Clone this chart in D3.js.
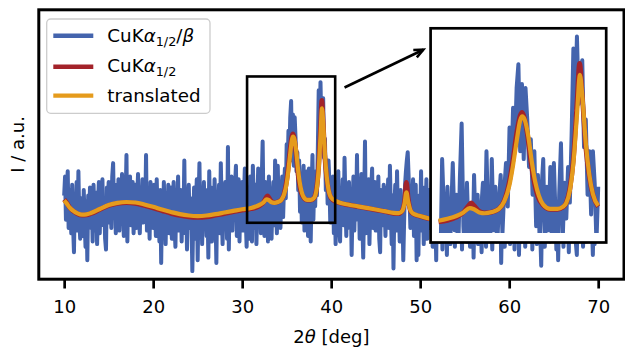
<!DOCTYPE html>
<html>
<head>
<meta charset="utf-8">
<script src="https://cdn.jsdelivr.net/npm/d3@7"></script>
<style>
  body { margin: 0; background: #fff; }
  svg { display: block; }
  text { font-family: "DejaVu Sans", sans-serif; fill: #000; }
</style>
</head>
<body>
<svg id="chart" width="625" height="347"></svg>
<script>
// ---- measured pattern: 2θ grid from 10° to 70° in 0.1° steps ----
const thetaStart = 10;
const thetaStep = 0.1;
const patternFull = [
  31,38,22,34,40,19,33,27,17,35,  // 10
  20,10,31,24,36,18,40,22,15,30,  // 11
  27,16,33,21,12,29,7,31,19,34,   // 12
  22,30,14,35,25,18,32,13,28,36,  // 13
  17,33,24,37,20,29,15,11,34,26,  // 14
  36,21,30,19,38,43,24,33,17,35,  // 15
  25,37,18,32,22,39,27,16,34,29,  // 16
  46,14,33,24,38,20,31,36,17,28,  // 17
  35,19,30,39,23,17,34,26,37,21,  // 18
  31,24,46,18,33,27,15,36,22,30,  // 19
  19,35,28,16,37,23,31,14,33,6,   // 20
  30,18,36,24,13,32,21,35,17,28,  // 21
  34,15,27,36,20,12,31,25,38,18,  // 22
  26,33,14,29,21,44,17,32,11,28,  // 23
  35,19,30,24,3,22,34,15,27,37,   // 24
  7,29,43,18,31,13,26,36,20,33,   // 25
  16,28,8,40,22,34,14,30,19,37,   // 26
  25,6,32,21,35,17,43,27,13,31,   // 27
  20,36,28,15,49,11,33,23,38,18,  // 28
  30,22,35,42,16,29,37,14,32,24,  // 29
  36,18,31,41,23,12,34,27,15,38,  // 30
  22,14,42,29,19,35,13,27,41,24,  // 31
  33,17,37,51,25,16,36,21,30,14,  // 32
  38,22,33,15,29,36,20,44,26,17,  // 33
  42,24,35,19,31,38,23,34,41,30,  // 34
  50,39,55,45,60,66,44,61,42,60,  // 35
  52,40,47,33,44,25,38,21,34,42,  // 36
  18,35,24,40,16,41,27,14,33,46,  // 37
  22,36,27,40,31,48,70,55,73,56,  // 38
  64,67,45,52,33,44,28,44,36,21,  // 39
  35,24,38,17,31,13,36,22,40,19,  // 40
  14,33,25,37,20,45,29,16,35,23,  // 41
  36,19,31,9,27,38,18,33,24,46,   // 42
  22,35,15,30,39,21,8,28,51,17,   // 43
  32,24,37,13,29,34,41,19,27,36,  // 44
  18,31,23,38,15,10,33,26,20,35,  // 45
  28,16,34,22,37,19,42,25,13,31,  // 46
  4,27,35,18,40,23,30,14,33,21,   // 47
  29,7,22,35,40,44,47,38,30,19,   // 48
  33,24,37,16,29,35,7,26,9,31,    // 49
  22,40,18,30,13,34,24,37,15,28,  // 50
  33,19,27,36,12,30,21,25,7,34,   // 51
  25,14,31,19,28,11,34,22,16,30,  // 52
  9,27,20,35,13,24,31,17,29,12,   // 53
  33,21,15,28,36,18,25,11,32,23,  // 54
  19,30,14,26,35,22,12,29,17,33,  // 55
  8,24,31,16,27,13,34,21,28,10,   // 56
  26,35,18,23,12,30,20,33,15,27,  // 57
  22,11,29,36,17,25,14,32,19,28,  // 58
  31,6,24,18,33,12,27,21,35,16,   // 59
  29,13,23,34,19,26,11,31,22,17,  // 60
  33,9,25,30,14,28,20,36,12,24,   // 61
  18,31,22,15,29,35,11,26,19,32,  // 62
  24,13,30,20,27,16,5,28,33,21,   // 63
  12,29,23,35,17,26,14,31,20,27,  // 64
  30,16,25,11,33,7,22,28,18,34,   // 65
  21,12,27,32,16,29,23,10,35,19,  // 66
  26,33,15,22,30,13,9,28,20,31,   // 67
  17,25,34,12,29,21,27,14,32,23,  // 68
  28,16,31,20,9,26,13,30,22,18,   // 69
  24                              // 70
];

// ---- Kα1/2 profile, [2θ, I] ----
const alphaProfile = [
  [10,29.5],[10.3,28.2],[10.6,26.6],[11,25.3],[11.5,24.2],[12,23.7],[12.5,23.8],[13,24.3],
  [14,25.8],[15,27.3],[16,28.1],[17,28.4],[18,28.1],[19,27.3],[20,26.4],[21,25.4],[22,24.4],
  [23,23.6],[24,23.1],[25,22.9],[26,23.1],[27,23.7],[28,24.3],[29,25.0],[30,25.6],[31,26.1],
  [31.5,26.5],[32,27.3],[32.4,28.5],[32.7,30.3],[32.85,30.9],[33,30.2],[33.3,28.8],[33.6,28.4],
  [34,28.6],[34.4,29.4],[34.7,31.5],[35,36.5],[35.2,42],[35.4,48.5],[35.6,53],[35.7,53.8],
  [35.8,53],[36,48.5],[36.2,41.5],[36.4,36],[36.6,32.5],[36.9,30.3],[37.3,29.3],[37.7,29.3],
  [38,29.8],[38.2,31],[38.4,34.5],[38.6,42],[38.8,56],[38.95,66.2],[39.1,58],[39.3,45],
  [39.5,37.5],[39.7,33],[40,30],[40.5,28.8],[41,28.2],[42,27.5],[43,26.9],[44,26.3],[45,25.7],
  [46,25.1],[47,24.4],[47.6,24.3],[48,25.5],[48.25,29],[48.45,35.9],[48.65,30],[48.9,25.5],
  [49.2,24.2],[50,23.3],[51,22.4],[52,21.8],[55,21.5],[60,21.8],[65,22],[70,22.2]
];

// ---- translated profile, [2θ, I] ----
const translatedProfile = [
  [10,29.2],[10.3,28.0],[10.6,26.6],[11,25.4],[11.5,24.4],[12,23.9],[12.5,24.0],[13,24.5],
  [14,26.0],[15,27.5],[16,28.3],[17,28.6],[18,28.4],[19,27.7],[20,26.8],[21,25.8],[22,24.9],
  [23,24.1],[24,23.6],[25,23.4],[26,23.6],[27,24.1],[28,24.7],[29,25.3],[30,25.9],[31,26.4],
  [31.5,26.9],[32,27.6],[32.4,28.5],[32.75,29.6],[33,29.3],[33.3,28.5],[33.6,28.3],[34,28.6],
  [34.4,29.4],[34.7,31.3],[35,35.5],[35.2,40.5],[35.4,46.5],[35.6,51.8],[35.72,52.8],
  [35.85,52],[36.05,48],[36.25,41.5],[36.45,36.2],[36.65,32.8],[36.9,30.5],[37.3,29.4],
  [37.7,29.4],[38,29.9],[38.2,30.9],[38.4,34],[38.6,41],[38.8,53],[38.97,63.3],[39.12,57],
  [39.3,46],[39.5,38],[39.7,33.2],[40,30.2],[40.5,29.0],[41,28.3],[42,27.6],[43,27.0],
  [44,26.4],[45,25.8],[46,25.2],[47,24.6],[47.6,24.5],[48,25.4],[48.25,28.2],[48.45,32.2],
  [48.65,28.8],[48.9,25.6],[49.2,24.3],[50,23.4],[51,22.5],[52,21.9],[55,21.6],[60,21.9],
  [65,22.1],[70,22.3]
];

const xTicks = [10, 20, 30, 40, 50, 60, 70];
const zoomRange = [31, 40];          // 2θ span shown in the magnified panel
const zoomLimitsX = [30.55, 40.45];
const zoomLimitsY = [20.9, 75.1];
const arrowFrom = [41.5, 71];
const arrowTo = [50.35, 85];

const colors = { full: "#4464ad", alpha: "#a3232a", translated: "#e59b1c" };
const widths = { full: 4, alpha: 4.8, translated: 4.2 };

// ---- layout ----
const svg = d3.select("#chart");
const frame = { left: 38.8, right: 624, top: 9.8, bottom: 279.2 };
const inset = { left: 430.6, right: 606.2, top: 28.3, bottom: 242.5 };

const x = d3.scaleLinear().domain([7.15, 72.9]).range([frame.left, frame.right]);
const y = d3.scaleLinear().domain([0, 99.8]).range([frame.bottom, frame.top]);

const fullPoints = patternFull.map((v, i) => [thetaStart + i * thetaStep, v]);

const defs = svg.append("defs");
defs.append("clipPath").attr("id", "mainClip").append("rect")
  .attr("x", frame.left).attr("y", frame.top)
  .attr("width", frame.right - frame.left).attr("height", frame.bottom - frame.top);

// ---- main panel ----
const main = svg.append("g").attr("clip-path", "url(#mainClip)");
const lineMain = d3.line().x(d => x(d[0])).y(d => y(d[1]));
const smoothMain = d3.line().x(d => x(d[0])).y(d => y(d[1])).curve(d3.curveMonotoneX);

main.append("path").datum(fullPoints).attr("d", lineMain)
  .attr("fill", "none").attr("stroke", colors.full).attr("stroke-width", widths.full)
  .attr("stroke-linejoin", "round");
main.append("path").datum(alphaProfile).attr("d", smoothMain)
  .attr("fill", "none").attr("stroke", colors.alpha).attr("stroke-width", widths.alpha)
  .attr("stroke-linejoin", "round");
main.append("path").datum(translatedProfile).attr("d", smoothMain)
  .attr("fill", "none").attr("stroke", colors.translated).attr("stroke-width", widths.translated)
  .attr("stroke-linejoin", "round");

// x axis
const xAxis = d3.axisBottom(x).tickValues(xTicks).tickSize(9.3).tickPadding(12.2).tickSizeOuter(0);
const axG = svg.append("g").attr("transform", `translate(0,${frame.bottom})`).call(xAxis);
axG.select(".domain").remove();
axG.selectAll(".tick line").attr("stroke", "#000").attr("stroke-width", 2.7);
axG.selectAll(".tick text").attr("font-size", 18).attr("font-family", "DejaVu Sans").attr("fill", "#000");

// axis titles
const xTitle = svg.append("text")
  .attr("x", (frame.left + frame.right) / 2).attr("y", 342.5)
  .attr("text-anchor", "middle").attr("font-size", 18);
xTitle.append("tspan").text("2");
xTitle.append("tspan").attr("font-style", "italic").text("θ");
xTitle.append("tspan").text(" [deg]");

svg.append("text")
  .attr("transform", `translate(24,${(frame.top + frame.bottom) / 2}) rotate(-90)`)
  .attr("text-anchor", "middle").attr("font-size", 18)
  .text("I / a.u.");

// magnified-region marker and arrow
svg.append("rect")
  .attr("x", x(zoomLimitsX[0])).attr("y", y(zoomLimitsY[1]))
  .attr("width", x(zoomLimitsX[1]) - x(zoomLimitsX[0]))
  .attr("height", y(zoomLimitsY[0]) - y(zoomLimitsY[1]))
  .attr("fill", "none").attr("stroke", "#000").attr("stroke-width", 2.6);

{
  const x0 = x(arrowFrom[0]), y0 = y(arrowFrom[1]);
  const x1 = x(arrowTo[0]), y1 = y(arrowTo[1]);
  const ang = Math.atan2(y1 - y0, x1 - x0);
  const len = 10, spread = 0.42;
  svg.append("line").attr("x1", x0).attr("y1", y0).attr("x2", x1).attr("y2", y1)
    .attr("stroke", "#000").attr("stroke-width", 2.6);
  const p = [
    [x1 - len * Math.cos(ang - spread), y1 - len * Math.sin(ang - spread)],
    [x1, y1],
    [x1 - len * Math.cos(ang + spread), y1 - len * Math.sin(ang + spread)]
  ];
  svg.append("path").attr("d", d3.line()(p))
    .attr("fill", "none").attr("stroke", "#000").attr("stroke-width", 2.6)
    .attr("stroke-linejoin", "miter").attr("stroke-linecap", "butt");
}

// ---- legend ----
const legend = svg.append("g");
legend.append("rect")
  .attr("x", 46.7).attr("y", 19).attr("width", 163.3).attr("height", 94.3)
  .attr("rx", 4).attr("ry", 4)
  .attr("fill", "#fff").attr("fill-opacity", 0.8)
  .attr("stroke", "#cccccc").attr("stroke-width", 1.3);

const legendRows = [
  { color: colors.full, width: widths.full, lineY: 35.7, base: 41.6, parts: [["CuK", ""], ["α", "i"], ["1/2", "sub"], ["/", ""], ["β", "i"]] },
  { color: colors.alpha, width: widths.alpha, lineY: 66.7, base: 71.6, parts: [["CuK", ""], ["α", "i"], ["1/2", "sub"]] },
  { color: colors.translated, width: widths.translated, lineY: 95.6, base: 101.6, parts: [["translated", ""]] }
];
legendRows.forEach(r => {
  legend.append("line").attr("x1", 53.3).attr("x2", 93.3).attr("y1", r.lineY).attr("y2", r.lineY)
    .attr("stroke", r.color).attr("stroke-width", 4.4);
  const t = legend.append("text").attr("x", 107.3).attr("y", r.base).attr("font-size", 18.3);
  let shifted = false;
  r.parts.forEach(([s, kind]) => {
    const ts = t.append("tspan").text(s);
    if (kind === "i") ts.attr("font-style", "italic");
    if (kind === "sub") {
      ts.attr("font-size", 12.8).attr("dy", 4.6);
      shifted = true;
    } else if (shifted) {
      ts.attr("dy", -4.6);
      shifted = false;
    }
  });
});

// ---- magnified panel ----
const xi = d3.scaleLinear().domain(zoomLimitsX).range([inset.left, inset.right]);
const yi = d3.scaleLinear().domain(zoomLimitsY).range([inset.bottom, inset.top]);

defs.append("clipPath").attr("id", "insetClip").append("rect")
  .attr("x", inset.left).attr("y", inset.top)
  .attr("width", inset.right - inset.left).attr("height", inset.bottom - inset.top);
defs.append("clipPath").attr("id", "insetFullClip").append("rect")
  .attr("x", inset.left).attr("y", inset.top)
  .attr("width", inset.right - inset.left).attr("height", yi(23.3) - inset.top);

svg.append("rect")
  .attr("x", inset.left).attr("y", inset.top)
  .attr("width", inset.right - inset.left).attr("height", inset.bottom - inset.top)
  .attr("fill", "#fff");

const inRange = d => d[0] >= zoomRange[0] - 1e-9 && d[0] <= zoomRange[1] + 1e-9;
const ins = svg.append("g").attr("clip-path", "url(#insetClip)");
const lineIn = d3.line().x(d => xi(d[0])).y(d => yi(d[1]));
const smoothIn = d3.line().x(d => xi(d[0])).y(d => yi(d[1])).curve(d3.curveMonotoneX);

ins.append("g").attr("clip-path", "url(#insetFullClip)")
  .append("path").datum(fullPoints.filter(inRange)).attr("d", lineIn)
  .attr("fill", "none").attr("stroke", colors.full).attr("stroke-width", widths.full)
  .attr("stroke-linejoin", "round");
ins.append("path").datum(alphaProfile.filter(inRange)).attr("d", smoothIn)
  .attr("fill", "none").attr("stroke", colors.alpha).attr("stroke-width", widths.alpha)
  .attr("stroke-linejoin", "round");
ins.append("path").datum(translatedProfile.filter(inRange)).attr("d", smoothIn)
  .attr("fill", "none").attr("stroke", colors.translated).attr("stroke-width", widths.translated)
  .attr("stroke-linejoin", "round");

svg.append("rect")
  .attr("x", inset.left).attr("y", inset.top)
  .attr("width", inset.right - inset.left).attr("height", inset.bottom - inset.top)
  .attr("fill", "none").attr("stroke", "#000").attr("stroke-width", 2.7);

// ---- main frame ----
svg.append("rect")
  .attr("x", frame.left).attr("y", frame.top)
  .attr("width", frame.right - frame.left).attr("height", frame.bottom - frame.top)
  .attr("fill", "none").attr("stroke", "#000").attr("stroke-width", 3);
</script>
</body>
</html>
